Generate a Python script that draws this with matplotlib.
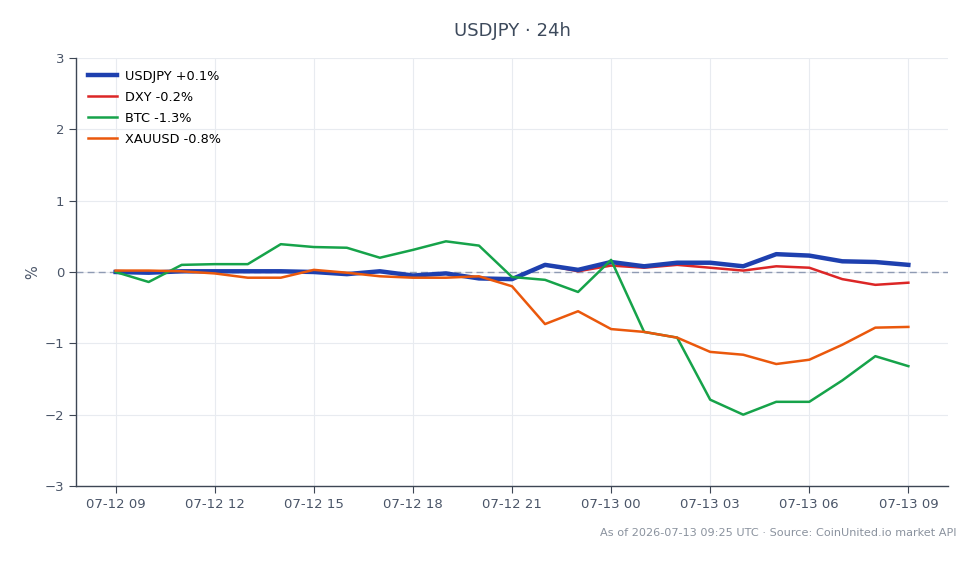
import numpy as np
import pandas as pd
import matplotlib
matplotlib.use("Agg")
import matplotlib.pyplot as plt
import matplotlib.dates as mdates

times = pd.date_range("2026-07-12 09:00", "2026-07-13 09:00", freq="h")

usdjpy = [0.00, -0.01, 0.01, 0.01, 0.01, 0.01, 0.00, -0.03, 0.01, -0.05, -0.02, -0.09, -0.10,
          0.10, 0.03, 0.14, 0.08, 0.13, 0.13, 0.08, 0.25, 0.23, 0.15, 0.14, 0.10]
dxy = [0.00, -0.01, 0.01, 0.01, 0.01, 0.01, 0.00, -0.03, 0.01, -0.05, -0.02, -0.09, -0.10,
       0.10, 0.01, 0.09, 0.06, 0.10, 0.06, 0.02, 0.08, 0.06, -0.10, -0.18, -0.15]
btc = [0.00, -0.14, 0.10, 0.11, 0.11, 0.39, 0.35, 0.34, 0.20, 0.31, 0.43, 0.37, -0.07,
       -0.11, -0.28, 0.17, -0.84, -0.92, -1.79, -2.00, -1.82, -1.82, -1.52, -1.18, -1.32]
xauusd = [0.02, 0.02, 0.01, -0.02, -0.08, -0.08, 0.03, -0.01, -0.06, -0.08, -0.08, -0.06, -0.20,
          -0.73, -0.55, -0.80, -0.84, -0.92, -1.12, -1.16, -1.29, -1.23, -1.02, -0.78, -0.77]

labels = ["USDJPY +0.1%", "DXY -0.2%", "BTC -1.3%", "XAUUSD -0.8%"]

fig = plt.figure(figsize=(9.8, 5.64), dpi=100)
ax = fig.add_axes([76 / 980, 1 - 486 / 564, 872 / 980, 428 / 564])

ax.axhline(0, color="#8f9bb3", linestyle=(0, (5, 3)), linewidth=1, zorder=1)
ax.plot(times, usdjpy, color="#1e40af", linewidth=3.2, label=labels[0], zorder=3)
ax.plot(times, dxy, color="#dc2626", linewidth=1.8, label=labels[1], zorder=2)
ax.plot(times, btc, color="#16a34a", linewidth=1.8, label=labels[2], zorder=4)
ax.plot(times, xauusd, color="#ea580c", linewidth=1.8, label=labels[3], zorder=5)

pad = pd.Timedelta(minutes=72)
ax.set_xlim(times[0] - pad, times[-1] + pad)
ax.set_ylim(-3, 3)
ax.set_yticks([-3, -2, -1, 0, 1, 2, 3])
ax.set_yticklabels(["\u22123", "\u22122", "\u22121", "0", "1", "2", "3"])
ax.xaxis.set_major_locator(mdates.HourLocator(byhour=[0, 3, 6, 9, 12, 15, 18, 21]))
ax.xaxis.set_major_formatter(mdates.DateFormatter("%m-%d %H"))

ax.grid(True, color="#e8ebf0", linewidth=0.8)
ax.set_axisbelow(True)
for s in ["top", "right"]:
    ax.spines[s].set_visible(False)
for s in ["left", "bottom"]:
    ax.spines[s].set_color("#3d4654")
    ax.spines[s].set_linewidth(1)
ax.tick_params(colors="#3d4654", labelcolor="#4a5568", labelsize=9.5, length=5)

ax.set_ylabel("%", color="#4a5568", fontsize=10.5, labelpad=3)
fig.text(512 / 980, 1 - 31 / 564, "USDJPY \u00b7 24h", ha="center", va="center",
         fontsize=13, color="#3d4a5c")
fig.text(956 / 980, 1 - 533 / 564, "As of 2026-07-13 09:25 UTC \u00b7 Source: CoinUnited.io market API",
         ha="right", va="center", fontsize=8.1, color="#8a929e")

ax.legend(loc="upper left", frameon=False, fontsize=9.3, handlelength=2.3,
          handletextpad=0.6, borderaxespad=0.5, labelspacing=0.62)

fig.savefig("out.png", dpi=100)
